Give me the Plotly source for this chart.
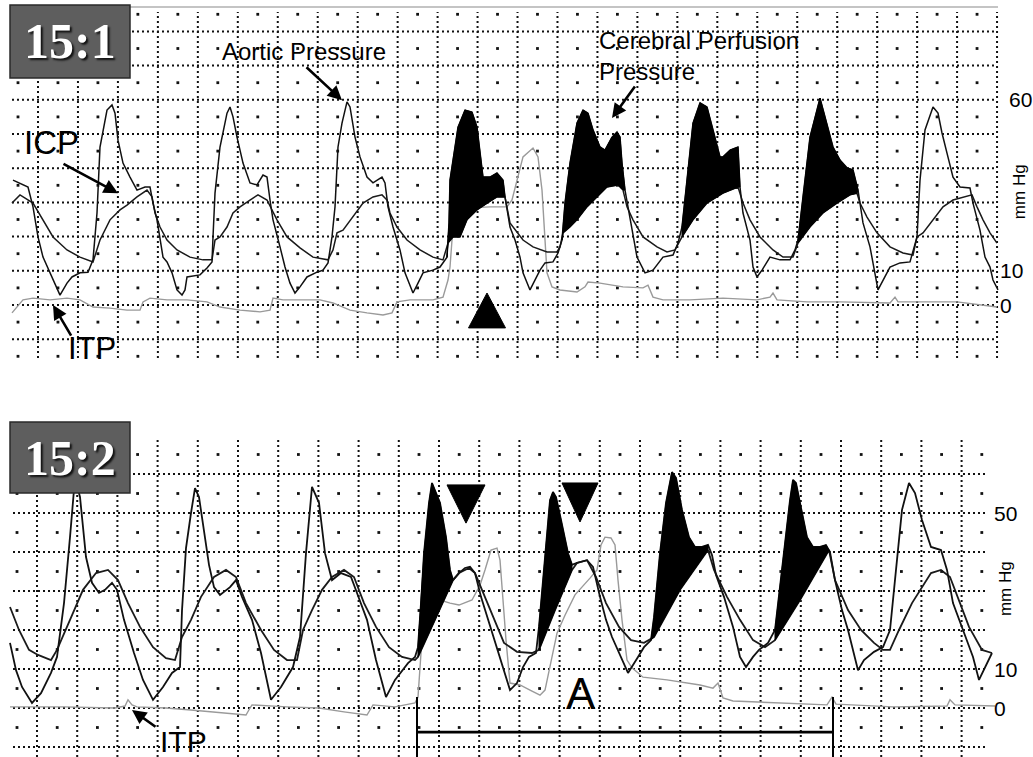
import numpy as np
import plotly.graph_objects as go

W, H = 1033, 757

# ---------------- data (time in samples, pressure in mmHg) ----------------
# Panel 15:1
top_aortic = [(13,36.5),(28,34.5),(33,28.7),(38,19.9),(43,14.0),(53,7.3),(60,2.9),(67,6.4),(72,8.2),(80,9.4),
 (88,9.6),(93,13.2),(97,26.9),(100,46.2),(107,57.0),(112,58.5),(115,56.1),(118,48.2),(123,41.5),(130,37.4),
 (137,33.6),(145,34.5),(150,34.5),(153,29.8),(157,24.9),(163,14.0),(167,12.6),(172,9.4),(177,4.4),(182,2.9),
 (185,4.4),(187,8.2),(200,8.8),(207,10.8),(212,12.6),(213,19.9),(215,32.7),(220,46.2),(227,56.1),(230,57.9),
 (233,55.0),(237,49.1),(243,41.5),(250,35.7),(257,35.1),(263,38.0),(267,37.4),(270,30.7),(273,24.9),(280,17.0),
 (285,11.1),(290,6.4),(295,3.5),(300,5.3),(307,8.2),(317,9.6),(323,10.2),(328,12.3),(332,19.9),(335,28.7),
 (338,46.2),(342,53.2),(347,59.4),(350,57.9),(355,49.1),(360,43.3),(367,37.4),(373,35.7),(382,37.4),(385,35.7),
 (388,28.7),(393,22.8),(400,16.1),(405,9.4),(413,3.5),(418,6.4),(423,9.4),(433,10.2),(440,11.1),(447,14.0),
 (449,24.0),(450,36.5),(453,42.4),(458,52.0),(465,57.0),(472,56.4),(477,52.0),(480,44.4),(483,37.4),(490,37.4),
 (497,38.6),(503,36.5),(505,31.6),(510,22.8),(515,19.0),(520,14.0),(523,9.4),(530,4.4),(535,7.3),(540,10.2),
 (545,12.3),(553,12.6),(558,15.2),(562,19.0),(565,29.8),(570,41.5),(577,53.2),(583,57.0),(588,56.1),(593,51.2),
 (600,46.2),(605,45.3),(612,49.1),(617,50.6),(620,49.1),(622,41.5),(625,33.6),(630,24.9),(637,14.0),(645,9.4),
 (653,10.2),(663,14.0),(673,14.6),(678,18.1),(682,22.8),(687,36.5),(693,53.2),(700,59.1),(707,57.9),(713,51.2),
 (720,43.3),(723,43.3),(730,45.3),(738,46.2),(740,34.5),(743,26.9),(750,19.0),(753,11.1),(757,8.2),(762,10.2),
 (770,14.0),(780,13.2),(790,13.2),(795,16.1),(798,19.0),(803,31.6),(810,49.1),(820,60.5),(827,53.2),(833,46.2),
 (840,42.4),(847,40.1),(853,39.5),(858,33.6),(863,24.0),(870,17.0),(878,4.4),(883,7.3),(890,11.1),(900,12.3),
 (910,12.6),(917,19.9),(920,36.5),(925,51.2),(933,57.9),(938,56.1),(942,50.3),(947,44.4),(953,37.4),(960,34.5),
 (970,34.2),(973,29.8),(980,21.9),(985,14.0),(990,11.1),(993,7.3),(998,4.4)]

top_icp = [(12,29.8),(20,32.2),(33,29.8),(43,24.9),(53,19.9),(67,16.1),(80,14.0),(93,12.6),(100,19.0),(110,24.9),
 (120,27.8),(127,29.2),(137,31.6),(147,33.6),(152,31.6),(155,26.9),(160,22.8),(167,19.0),(177,16.1),(190,14.0),
 (203,13.2),(212,13.2),(215,19.0),(220,19.9),(227,22.8),(233,26.9),(240,28.7),(250,30.7),(258,32.2),(267,30.7),
 (272,27.8),(277,24.9),(287,19.9),(300,16.7),(313,14.0),(328,13.2),(333,16.1),(337,21.1),(343,21.9),(353,25.7),
 (363,29.8),(373,31.6),(382,32.2),(387,30.7),(390,26.9),(397,22.8),(407,19.0),(420,16.1),(433,14.0),(443,13.2),
 (448,18.1),(453,19.9),(460,19.9),(467,24.9),(477,27.8),(487,29.8),(497,31.6),(505,31.6),(510,24.0),(523,19.0),
 (533,17.0),(547,15.5),(557,15.5),(560,17.0),(563,21.1),(570,22.8),(577,24.9),(587,28.7),(597,31.6),(607,34.5),
 (618,35.1),(623,33.6),(627,28.7),(633,24.9),(643,19.9),(657,17.0),(667,15.5),(675,16.1),(682,19.9),(693,24.9),
 (707,29.8),(723,32.7),(738,34.5),(743,29.8),(750,24.9),(760,19.9),(773,16.1),(783,14.0),(793,14.0),(798,18.1),
 (810,22.8),(823,26.9),(837,29.8),(850,32.2),(857,32.7),(860,29.8),(867,25.7),(877,21.1),(890,17.0),(903,15.2),
 (913,14.6),(917,19.9),(923,21.1),(933,24.9),(943,28.7),(953,30.7),(963,31.6),(972,32.2),(977,28.7),(983,24.9),
 (990,21.1),(997,18.1)]

top_itp = [(12,-2.3),(17,-0.6),(23,1.5),(33,2.0),(50,1.5),(67,2.0),(80,1.5),(93,-0.6),(110,-0.9),(127,-1.5),
 (140,-1.5),(143,0.9),(150,2.0),(167,1.5),(187,1.5),(207,0.9),(220,-0.6),(240,-1.5),(260,-2.0),(270,-1.5),
 (273,2.0),(283,1.5),(300,1.5),(320,1.5),(333,0.6),(350,-1.5),(367,-2.3),(383,-2.9),(392,-2.3),(397,0.9),
 (410,1.5),(433,1.5),(443,2.3),(448,7.3),(450,11.1),(452,19.0),(456,26.3),(470,28.4),(490,28.7),(507,28.7),
 (512,30.7),(517,36.5),(523,43.3),(533,45.9),(538,43.3),(542,33.6),(545,19.0),(547,9.4),(552,5.3),(560,4.4),
 (577,3.8),(585,5.3),(588,6.7),(600,6.4),(623,5.3),(643,5.0),(648,5.8),(653,2.3),(663,1.5),(690,1.5),
 (723,2.0),(757,1.5),(770,2.3),(773,3.5),(777,1.5),(807,0.9),(840,0.9),(873,0.6),(890,0.6),(895,2.3),
 (898,0.9),(923,0.9),(957,0.9),(997,-0.6)]

top_cpp_windows = [(447, 505), (562, 625), (682, 740), (798, 858)]

# Panel 15:2
bot_aortic = [(10,16.7),(16,9.7),(22,5.4),(32,1.3),(41,3.8),(51,9.0),(57,13.1),(64,26.9),(70,43.8),(75,59.0),
 (80,54.1),(86,38.7),(92,32.1),(99,29.5),(105,30.3),(112,32.1),(117,30.3),(124,22.6),(134,14.1),(143,7.2),
 (153,2.1),(163,5.4),(172,9.0),(180,10.5),(182,25.0),(186,41.0),(191,50.0),(195,56.4),(199,54.1),(204,45.6),
 (209,36.7),(214,31.0),(220,29.0),(230,31.0),(236,32.8),(242,28.5),(252,22.6),(261,14.1),(271,2.1),(281,5.4),
 (293,10.5),(300,18.2),(306,39.7),(312,56.7),(319,52.6),(325,39.7),(332,32.8),(341,34.6),(351,33.6),(357,29.5),
 (367,22.6),(376,12.3),(386,2.8),(395,7.2),(408,11.5),(415,13.1),(418,15.6),(421,26.9),(424,39.7),(429,52.6),
 (432,57.7),(440,52.6),(446,43.8),(450,35.4),(453,32.8),(459,34.6),(465,35.9),(470,36.2),(475,34.6),(481,28.5),
 (488,22.6),(494,18.2),(504,9.7),(510,4.6),(517,6.4),(523,10.5),(529,13.1),(536,14.1),(539,20.8),(545,39.7),
 (550,53.3),(553,55.4),(556,54.1),(561,48.2),(568,39.7),(572,36.7),(577,37.2),(587,37.9),(593,36.2),(600,28.5),
 (606,22.6),(612,18.2),(622,12.3),(628,9.0),(638,13.1),(644,15.6),(651,17.4),(654,23.3),(660,39.7),(666,52.6),
 (672,60.5),(676,59.0),(682,50.8),(689,43.8),(695,41.3),(702,41.3),(708,41.8),(712,39.2),(716,34.1),(724,28.5),
 (733,20.8),(740,13.1),(746,10.5),(753,13.1),(759,14.9),(768,16.7),(775,20.0),(778,26.9),(784,39.7),(790,53.3),
 (793,58.5),(796,57.7),(800,52.6),(807,43.8),(813,41.3),(820,41.3),(826,41.8),(830,40.0),(835,32.8),(842,25.1),
 (848,20.0),(858,9.7),(864,12.3),(874,14.4),(883,15.6),(890,20.0),(896,35.4),(902,50.8),(909,57.7),(915,55.1),
 (922,48.2),(931,41.3),(941,40.5),(947,35.4),(953,26.9),(963,20.0),(973,13.1),(979,7.2),(985,10.5),(992,14.1)]

bot_icp = [(10,25.9),(19,20.0),(29,14.9),(38,13.6),(51,12.3),(57,14.9),(70,22.6),(83,30.3),(96,34.6),(108,35.4),
 (118,32.8),(128,26.9),(140,20.8),(153,15.6),(166,12.8),(175,12.3),(182,18.2),(191,22.6),(201,28.5),(214,33.6),
 (226,35.4),(236,33.6),(246,26.9),(261,20.0),(274,14.9),(287,12.3),(297,12.3),(303,20.0),(312,25.1),(322,30.3),
 (332,33.6),(344,35.4),(354,33.6),(364,26.9),(376,20.8),(389,15.6),(402,13.1),(415,12.3),(418,13.1),(435,22.6),
 (453,32.8),(459,34.6),(469,35.9),(475,34.6),(485,28.5),(494,22.6),(504,16.7),(517,14.4),(532,14.1),(539,14.9),
 (555,25.1),(572,35.4),(577,37.2),(587,37.9),(596,33.6),(606,26.9),(619,20.8),(631,17.4),(644,16.7),(654,18.2),
 (680,30.3),(708,40.5),(714,35.4),(727,28.5),(740,22.6),(753,17.4),(765,15.6),(775,17.4),(800,27.7),(829,40.5),
 (835,32.8),(848,25.1),(861,20.0),(874,16.7),(883,14.9),(890,14.9),(899,20.0),(912,26.9),(922,31.0),(931,34.6),
 (941,35.4),(950,33.6),(960,26.9),(969,20.8),(982,14.9),(992,14.1)]

bot_itp = [(10,0.3),(64,0.3),(115,0.0),(125,0.5),(128,2.1),(132,0.8),(137,0.3),(166,0.0),(191,-0.5),(223,-1.3),
 (246,-1.8),(250,0.0),(252,0.8),(287,0.3),(319,0.0),(344,-1.0),(367,-1.8),(373,0.8),(395,0.3),(415,1.3),
 (418,2.8),(421,14.1),(424,22.6),(432,26.9),(440,27.7),(450,26.9),(459,26.4),(472,27.7),(480,31.5),(485,35.4),
 (491,40.5),(497,41.0),(500,37.9),(503,27.7),(506,17.4),(510,6.4),(520,5.9),(530,4.6),(540,3.3),(545,4.6),
 (550,11.0),(557,19.2),(565,23.8),(575,29.0),(590,33.3),(597,35.4),(601,41.8),(605,43.8),(611,43.6),(615,41.8),
 (618,32.8),(622,22.6),(627,12.3),(632,10.3),(643,7.9),(667,7.2),(700,5.9),(713,5.1),(718,6.4),(723,2.6),
 (733,1.8),(780,1.3),(827,0.8),(832,2.8),(836,1.0),(893,0.3),(947,0.5),(950,2.1),(955,0.8),(995,0.5)]

bot_cpp_windows = [(418, 453), (539, 572), (651, 708), (775, 830)]

period_A = [417, 833]          # samples spanned by bracket "A"
bracket_level, bracket_top = -6.2, 2.8

# ---------------- layout constants (pixels) ----------------
TOP_MM0_PX, TOP_PX_PER_MM = 305.0, 3.42
BOT_MM0_PX, BOT_PX_PER_MM = 708.0, 3.90
top_range = [-16, 88]
bot_range = [(BOT_MM0_PX - 757) / BOT_PX_PER_MM, (BOT_MM0_PX - 420) / BOT_PX_PER_MM]

def dom(rng, mm0, k):
    y_lo_px = mm0 - rng[0] * k
    y_hi_px = mm0 - rng[1] * k
    return [1 - y_lo_px / H, 1 - y_hi_px / H]

top_dom = dom(top_range, TOP_MM0_PX, TOP_PX_PER_MM)
bot_dom = dom(bot_range, BOT_MM0_PX, BOT_PX_PER_MM)

def split(pairs):
    return [p[0] for p in pairs], [p[1] for p in pairs]

fig = go.Figure()

GRID_COL = "#111111"

def add_grid(xa, ya, vx, vy0, vy1, hy, hx0, hx1, cx, cy):
    xs, ys = [], []
    for x in vx:
        xs += [x, x, None]; ys += [vy0, vy1, None]
    fig.add_trace(go.Scatter(x=xs, y=ys, mode="lines", xaxis=xa, yaxis=ya, hoverinfo="skip",
                             line=dict(color=GRID_COL, width=2, dash="2px,3px"), cliponaxis=False))
    xs, ys = [], []
    for y in hy:
        xs += [hx0, hx1, None]; ys += [y, y, None]
    fig.add_trace(go.Scatter(x=xs, y=ys, mode="lines", xaxis=xa, yaxis=ya, hoverinfo="skip",
                             line=dict(color=GRID_COL, width=2, dash="2px,3px"), cliponaxis=False))
    gx, gy = np.meshgrid(cx, cy)
    fig.add_trace(go.Scatter(x=gx.ravel(), y=gy.ravel(), mode="markers", xaxis=xa, yaxis=ya,
                             hoverinfo="skip", cliponaxis=False,
                             marker=dict(symbol="square", size=2.8, color=GRID_COL, line=dict(width=0))))

# grids
add_grid("x", "y", 38 + 39.96 * np.arange(25), -15.5, 85.7, np.arange(-10, 81, 10), 12, 997,
         18 + 39.96 * np.arange(25), np.arange(-15, 86, 10))
add_grid("x2", "y2", 37 + 40.2 * np.arange(24), bot_range[0], 68.7, np.arange(-10, 61, 10), 13, 985,
         17 + 40.2 * np.arange(25), np.arange(-5, 66, 10))

def add_panel(xa, ya, aortic, icp, itp, windows, lw):
    t, v = split(itp)
    fig.add_trace(go.Scatter(x=t, y=v, mode="lines", xaxis=xa, yaxis=ya,
                             line=dict(color="#9a9a9a", width=1.4), name="ITP"))
    t, v = split(icp)
    fig.add_trace(go.Scatter(x=t, y=v, mode="lines", xaxis=xa, yaxis=ya,
                             line=dict(color="#1a1a1a", width=lw), name="ICP"))
    t, v = split(aortic)
    fig.add_trace(go.Scatter(x=t, y=v, mode="lines", xaxis=xa, yaxis=ya,
                             line=dict(color="#111111", width=lw), name="Aortic Pressure"))
    for (t0, t1) in windows:
        fa = [p for p in aortic if t0 <= p[0] <= t1]
        fi = [p for p in icp if t0 <= p[0] <= t1][::-1]
        poly = fa + fi + fa[:1]
        px, py = split(poly)
        fig.add_trace(go.Scatter(x=px, y=py, mode="lines", fill="toself", fillcolor="black",
                                 xaxis=xa, yaxis=ya, line=dict(color="black", width=1),
                                 name="Cerebral Perfusion Pressure"))

add_panel("x", "y", top_aortic, top_icp, top_itp, top_cpp_windows, 1.5)
add_panel("x2", "y2", bot_aortic, bot_icp, bot_itp, bot_cpp_windows, 1.8)

# triangle markers (centre sample, base mmHg, apex mmHg)
def tri(xa, ya, tc, base, apex, half):
    fig.add_trace(go.Scatter(x=[tc - half, tc + half, tc, tc - half], y=[base, base, apex, base],
                             mode="lines", fill="toself", fillcolor="black", line=dict(color="black", width=1),
                             xaxis=xa, yaxis=ya, hoverinfo="skip"))

tri("x", "y", 487, -6.7, 3.5, 18.5)
tri("x2", "y2", 466, 57.2, 47.4, 19)
tri("x2", "y2", 580, 57.7, 47.7, 18)

# bracket A
fig.add_trace(go.Scatter(x=[period_A[0], period_A[0], None, period_A[1], period_A[1]],
                         y=[bracket_top, bot_range[0], None, bracket_top, bot_range[0]],
                         mode="lines", xaxis="x2", yaxis="y2", line=dict(color="black", width=2),
                         cliponaxis=False, hoverinfo="skip"))
fig.add_trace(go.Scatter(x=period_A, y=[bracket_level, bracket_level], mode="lines", xaxis="x2", yaxis="y2",
                         line=dict(color="black", width=2.8), hoverinfo="skip"))

SANS = "Liberation Sans, Arial, sans-serif"
ann = []

def text(xr, yr, x, y, s, size, xanchor="center", angle=0, align="center"):
    ann.append(dict(xref=xr, yref=yr, x=x, y=y, text=s, showarrow=False, xanchor=xanchor,
                    yanchor="middle", textangle=angle, align=align,
                    font=dict(family=SANS, size=size, color="black")))

def arrow(xr, yr, head, tail):
    ann.append(dict(xref=xr, yref=yr, axref=xr, ayref=yr, x=head[0], y=head[1], ax=tail[0], ay=tail[1],
                    text="", showarrow=True, arrowhead=2, arrowsize=1.1, arrowwidth=2.6, arrowcolor="black"))

# top panel texts
text("x", "y", 304, 74.0, "Aortic Pressure", 24)
text("x", "y", 597, 72.8, "Cerebral Perfusion<br>Pressure", 24, xanchor="left", align="left")
text("x", "y", 51, 47.4, "ICP", 33)
text("x", "y", 92, -12.6, "ITP", 31)
arrow("x", "y", (342, 59.9), (305, 69.9))
arrow("x", "y", (612, 54.7), (636, 64.3))
arrow("x", "y", (118, 32.7), (62, 41.5))
arrow("x", "y", (53, 0.0), (72, -9.4))
text("x", "y", 1007, 60, "60", 21, xanchor="left")
text("x", "y", 998, 10, "10", 21, xanchor="left")
text("x", "y", 998, 0, "0", 21, xanchor="left")
text("x", "y", 1019, 33.0, "mm Hg", 17, angle=-90)

# bottom panel texts
text("x2", "y2", 581, 3.6, "A", 44)
text("x2", "y2", 183, -8.7, "ITP", 30)
arrow("x2", "y2", (132, -0.5), (157, -5.1))
text("x2", "y2", 992, 50, "50", 21, xanchor="left")
text("x2", "y2", 992, 10, "10", 21, xanchor="left")
text("x2", "y2", 992, 0, "0", 21, xanchor="left")
text("x2", "y2", 1005, 30.5, "mm Hg", 17, angle=-90)

# labelled boxes
shapes = []
for (label, y0, y1) in [("15:1", 5, 78), ("15:2", 422, 493)]:
    shapes.append(dict(type="rect", xref="paper", yref="paper", x0=10 / W, x1=130 / W,
                       y0=1 - y1 / H, y1=1 - y0 / H, fillcolor="#5e5e5e",
                       line=dict(color="#2a2a2a", width=1.5), layer="above"))
    ann.append(dict(xref="paper", yref="paper", x=70 / W, y=1 - (y0 + y1) / 2 / H, text=label,
                    showarrow=False, xanchor="center", yanchor="middle",
                    font=dict(family="Liberation Serif, Times New Roman, serif", size=50, color="white",
                              weight="bold", shadow="2px 2px 2px #111")))
# top frame line
shapes.append(dict(type="line", xref="paper", yref="paper", x0=130 / W, x1=998 / W,
                   y0=1 - 7 / H, y1=1 - 7 / H, line=dict(color="#8a8a8a", width=1.2), layer="below"))

axis_hidden = dict(visible=False, showgrid=False, zeroline=False)
fig.update_layout(
    width=W, height=H, margin=dict(l=0, r=0, t=0, b=0),
    paper_bgcolor="white", plot_bgcolor="white", showlegend=False,
    xaxis=dict(domain=[0, 1], range=[0, W], anchor="y", **axis_hidden),
    yaxis=dict(domain=top_dom, range=top_range, anchor="x", **axis_hidden),
    xaxis2=dict(domain=[0, 1], range=[0, W], anchor="y2", **axis_hidden),
    yaxis2=dict(domain=bot_dom, range=bot_range, anchor="x2", **axis_hidden),
    annotations=ann, shapes=shapes,
)

fig.write_html("out.html", config={"displayModeBar": False},
               post_script="document.body.style.margin='0';document.body.style.overflow='hidden';")
